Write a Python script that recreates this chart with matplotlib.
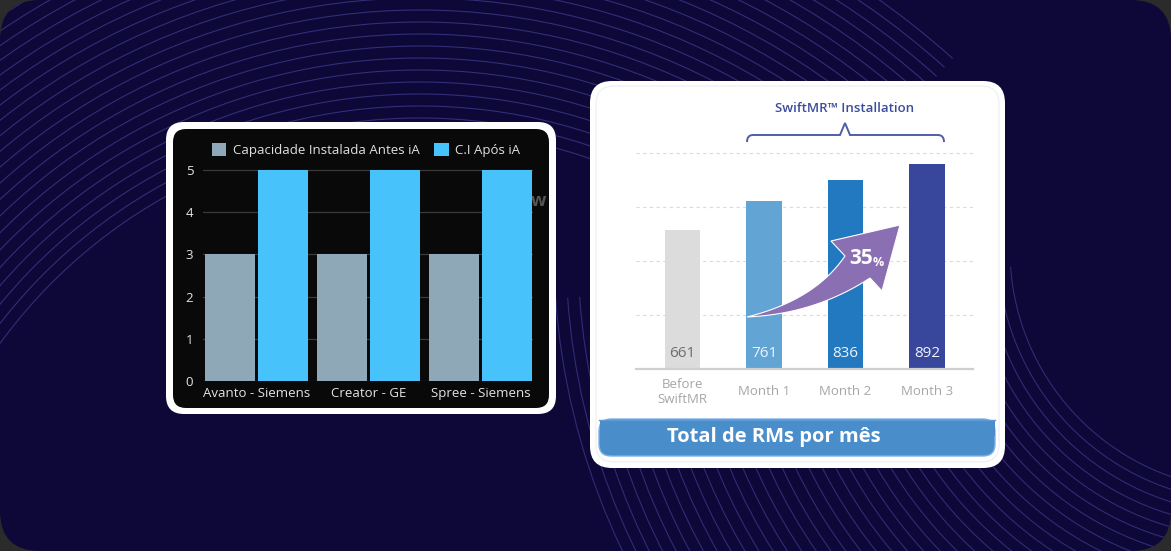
import numpy as np
import matplotlib
matplotlib.use('Agg')
import matplotlib.pyplot as plt
from matplotlib.patches import FancyBboxPatch, Arc, Polygon, Rectangle, PathPatch
from matplotlib.path import Path

plt.rcParams['font.family'] = ['Open Sans', 'DejaVu Sans']

# ---------------- data ----------------
left_categories = ['Avanto - Siemens', 'Creator - GE', 'Spree - Siemens']
left_series_names = ['Capacidade Instalada Antes iA', 'C.I Após iA']
left_before = [3, 3, 3]
left_after = [5, 5, 5]
left_yticks = [0, 1, 2, 3, 4, 5]

right_categories = ['Before\nSwiftMR', 'Month 1', 'Month 2', 'Month 3']
right_values = [661, 761, 836, 892]
right_title = 'Total de RMs por mês'
brace_label = 'SwiftMR™ Installation'
growth_number = '35'
growth_unit = '%'

W, H = 1171, 551
fig = plt.figure(figsize=(W / 100, H / 100), dpi=100, facecolor='#2b2b2b')


def px_axes(l, t, r, b, z):
    return fig.add_axes([l / W, 1 - b / H, (r - l) / W, (b - t) / H], zorder=z)


def rbox(ax, x0, y0, x1, y1, rs, **kw):
    p = FancyBboxPatch((x0, y0), x1 - x0, y1 - y0,
                       boxstyle=f'round,pad=0,rounding_size={rs}', **kw)
    ax.add_patch(p)
    return p


# ---------------- background ----------------
bg = fig.add_axes([0, 0, 1, 1], zorder=0)
bg.set_xlim(0, W)
bg.set_ylim(H, 0)
bg.axis('off')
bgp = rbox(bg, 0, 0, W, H, 40, fc='#0d0837', ec='none')

for r in np.arange(520, 805, 12):
    a = Arc((420, 650), 2 * r, 2 * r, theta1=195, theta2=312,
            color='#332e77', lw=0.8)
    bg.add_patch(a)
    a.set_clip_path(bgp)
for r in np.arange(240, 700, 12):
    a = Arc((1250, 250), 2 * r, 2 * r, theta1=100, theta2=176,
            color='#312c75', lw=0.8)
    bg.add_patch(a)
    a.set_clip_path(bgp)

# left card
rbox(bg, 166, 122, 556, 414, 18, fc='white', ec='none')
rbox(bg, 173, 129, 549, 408, 13, fc='#090909', ec='none')
bg.text(539, 201, 'w', color='#555555', fontsize=13, fontweight='bold',
        ha='center', va='center')

# right card
rbox(bg, 590, 81, 1005, 468, 22, fc='white', ec='none')
rbox(bg, 596, 86, 999, 462, 18, fc='none', ec='#f0f1f4', lw=1)
rbox(bg, 599, 419, 995, 456, 12, fc='#4a8dcb', ec='#7fb2e2', lw=1)
bg.add_patch(Rectangle((599.5, 419.5), 395, 16, fc='#4a8dcb', ec='none'))
bg.plot([599, 995], [419.5, 419.5], color='#5b9ad4', lw=1)
bg.text(667, 437, right_title, color='white', fontsize=14.5, fontweight='bold',
        ha='left', va='center')

# ---------------- left chart ----------------
axL = px_axes(203, 166, 533, 381, 2)
axL.set_facecolor('none')
x = np.arange(len(left_categories))
bw = 0.446
off = 0.237
axL.bar(x - off, left_before, bw, color='#8fa8b7', label=left_series_names[0])
axL.bar(x + off, left_after, bw, color='#47c2fb', label=left_series_names[1])
axL.set_xlim(-0.478, 2.469)
axL.set_ylim(0, 5.095)
axL.set_yticks(left_yticks)
axL.set_xticks(x)
axL.set_xticklabels(left_categories)
axL.yaxis.grid(True, color='#3a3a3a', lw=0.9)
axL.set_axisbelow(True)
for s in axL.spines.values():
    s.set_visible(False)
axL.tick_params(axis='both', length=0, colors='#e4e4e4', labelsize=9.5)
axL.tick_params(axis='y', pad=7)
axL.tick_params(axis='x', pad=4)
axL.legend(loc='center', bbox_to_anchor=(366 / W, 1 - 150 / H),
           bbox_transform=fig.transFigure, ncol=2, frameon=False,
           handlelength=1.1, handleheight=1.1, handletextpad=0.5,
           columnspacing=1.1, fontsize=9.5, labelcolor='#e0e0e0')

# ---------------- right chart ----------------
axR = px_axes(636, 145, 973, 369, 2)
axR.set_facecolor('none')
xr = np.arange(len(right_values))
rcolors = ['#dcdcdc', '#62a4d4', '#2279bf', '#38479c']
axR.bar(xr, right_values, 0.44, color=rcolors, zorder=2)
axR.set_xlim(-0.571, 3.564)
axR.set_ylim(170, 958.7)
axR.set_yticks([360, 550, 740, 930])
axR.yaxis.grid(True, color='#dadada', lw=0.8, ls=(0, (3, 3)))
axR.set_axisbelow(True)
for k, s in axR.spines.items():
    s.set_visible(k == 'bottom')
axR.spines['bottom'].set_color('#cfcfcf')
axR.spines['bottom'].set_linewidth(1.6)
axR.spines['bottom'].set_zorder(3)
axR.set_yticklabels([])
axR.tick_params(axis='y', length=0)
axR.set_xticks(xr)
axR.set_xticklabels(right_categories, fontsize=9.5, color='#a6a6a6')
axR.tick_params(axis='x', length=0, pad=16.5)
for lbl in axR.get_xticklabels():
    lbl.set_va('center')
    lbl.set_linespacing(1.15)
vcolors = ['#6e6e6e', '#eef3fa', '#eef3fa', '#eef3fa']
for xi, v, c in zip(xr, right_values, vcolors):
    axR.annotate(str(v), (xi, 170), xytext=(0, 11.5), textcoords='offset points',
                 ha='center', va='center', fontsize=11, color=c, zorder=4,
                 fontweight='medium')

# ---------------- overlay: brace + arrow ----------------
ov = fig.add_axes([0, 0, 1, 1], zorder=5)
ov.set_xlim(0, W)
ov.set_ylim(H, 0)
ov.axis('off')
ov.patch.set_alpha(0)

verts = [(747, 142), (747, 135), (753, 135), (840, 135), (845, 123), (850, 135),
         (938, 135), (944, 135), (944, 142)]
codes = [Path.MOVETO, Path.CURVE3, Path.CURVE3, Path.LINETO, Path.LINETO, Path.LINETO,
         Path.LINETO, Path.CURVE3, Path.CURVE3]
ov.add_patch(PathPatch(Path(verts, codes), fc='none', ec='#4f5ea8', lw=1.4))
ov.text(845, 109, brace_label, color='#3d4d9c', fontsize=9.5, fontweight='semibold',
        ha='center', va='center')


def qbez(p0, p1, p2, n=20):
    t = np.linspace(0, 1, n)[:, None]
    p0, p1, p2 = map(np.array, (p0, p1, p2))
    return (1 - t) ** 2 * p0 + 2 * (1 - t) * t * p1 + t ** 2 * p2


start = (747, 317)
lower = qbez(start, (815, 314), (870, 278))
upper = qbez((845, 256), (815, 300), start)
pts = np.vstack([lower, [(882, 291), (900, 225), (831, 241)], upper])
ov.add_patch(Polygon(pts, closed=True, fc='#8b6fb3', ec='white', lw=0.8))
ov.text(873, 258, growth_number, color='white', fontsize=15, fontweight='bold',
        ha='right', va='center')
ov.text(873, 262, growth_unit, color='white', fontsize=9, fontweight='bold',
        ha='left', va='center')

fig.savefig('out.png', dpi=100, facecolor=fig.get_facecolor())
